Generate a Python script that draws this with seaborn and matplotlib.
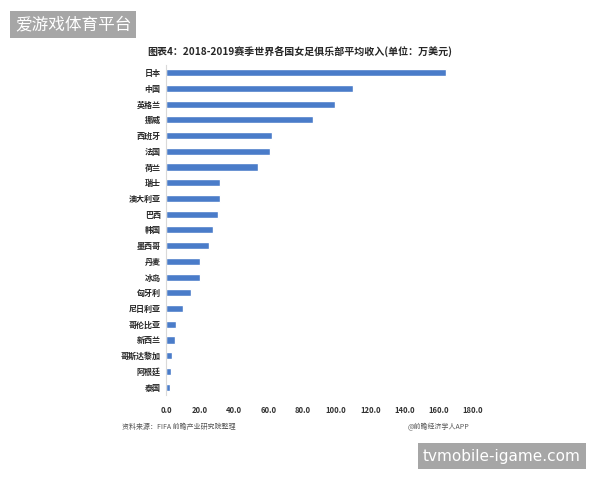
# -*- coding: utf-8 -*-
import matplotlib
matplotlib.use("Agg")
import seaborn as sns
import pandas as pd
import matplotlib.pyplot as plt

# 数据
countries = ["日本", "中国", "英格兰", "挪威", "西班牙", "法国", "荷兰", "瑞士", "澳大利亚",
             "巴西", "韩国", "墨西哥", "丹麦", "冰岛", "匈牙利", "尼日利亚", "哥伦比亚",
             "新西兰", "哥斯达黎加", "阿根廷", "泰国"]
income = [164.7, 109.8, 99.2, 86.5, 62.4, 61.2, 54.1, 31.4, 31.4,
          30.2, 27.6, 25.3, 20.0, 20.0, 14.7, 9.8, 5.9,
          5.3, 3.5, 2.8, 2.0]
x_ticks = [0, 20, 40, 60, 80, 100, 120, 140, 160, 180]

data = pd.DataFrame({"country": countries, "income": income})

sns.set_style("white")
plt.rcParams['font.family'] = ['Noto Sans CJK SC', 'DejaVu Sans']

fig = plt.figure(figsize=(6, 4.8), dpi=100)
ax = fig.add_axes([0.277, 0.177, 0.51, 0.688])

sns.barplot(x="income", y="country", data=data, ax=ax, color="#4a7cc9",
            saturation=1, width=0.45)

ax.set_xlim(0, 180)
ax.set_xticks(x_ticks)
ax.set_xticklabels([f"{t:.1f}" for t in x_ticks])
ax.set_xlabel("")
ax.set_ylabel("")
for s in ["top", "right", "bottom"]:
    ax.spines[s].set_visible(False)
ax.spines["left"].set_color("#d9d9d9")
ax.spines["left"].set_linewidth(0.8)
ax.tick_params(axis='x', labelsize=5.5, length=0, pad=8, colors="#333333")
ax.tick_params(axis='y', labelsize=5.8, length=0, pad=4)
for lab in ax.get_yticklabels() + ax.get_xticklabels():
    lab.set_fontweight("bold")

# 标题
fig.text(0.5, 0.893, "图表4：2018-2019赛季世界各国女足俱乐部平均收入(单位：万美元)",
         ha="center", va="center", fontsize=7.2, fontweight="bold")

# 来源
fig.text(0.203, 0.11, "资料来源：FIFA 前瞻产业研究院整理", ha="left", va="center",
         fontsize=5, color="#555555")
fig.text(0.68, 0.11, "@前瞻经济学人APP", ha="left", va="center",
         fontsize=5, color="#555555")

# 水印标签
fig.text(0.025, 0.948, "爱游戏体育平台", ha="left", va="center", fontsize=12,
         color="white", bbox=dict(boxstyle="square,pad=0.3", fc="#a6a6a6", ec="none"))
fig.text(0.705, 0.05, "tvmobile-igame.com", ha="left", va="center", fontsize=11,
         color="white", family=["DejaVu Sans"],
         bbox=dict(boxstyle="square,pad=0.35", fc="#a6a6a6", ec="none"))

fig.savefig("out.png", dpi=100)
